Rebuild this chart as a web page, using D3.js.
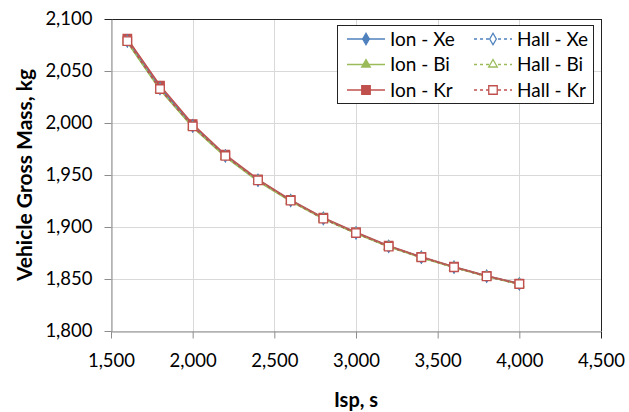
<!DOCTYPE html>
<html>
<head>
<meta charset="utf-8">
<script src="https://cdn.jsdelivr.net/npm/d3@7"></script>
<style>
  body { margin: 0; background: #fff; }
  text { font-family: Lato, "Open Sans", sans-serif; fill: #000; }
</style>
</head>
<body>
<div id="graph"></div>
<script>
// Vehicle gross mass vs Isp

let svgWidth = 629;
let svgHeight = 412;

let margin = { top: 19, right: 28, bottom: 81, left: 111 };
let width = svgWidth - margin.left - margin.right;
let height = svgHeight - margin.top - margin.bottom;

// data
let isp = [1600, 1800, 2000, 2200, 2400, 2600, 2800, 3000, 3200, 3400, 3600, 3800, 4000];
let ionXe  = [2079, 2034, 1997.5, 1968.5, 1945, 1925.5, 1908.5, 1894.5, 1881.5, 1871, 1861.5, 1852.8, 1845.4];
let ionBi  = [2077.5, 2032, 1996, 1967.5, 1944, 1924.8, 1907.8, 1893.8, 1881, 1870.5, 1861, 1852.4, 1845];
let ionKr  = [2081, 2036, 1999, 1969.5, 1945.8, 1926, 1909, 1895, 1882, 1871.3, 1861.8, 1853, 1845.6];
let hallXe = [2078.8, 2033, 1997, 1968.3, 1944.9, 1925.4, 1908, 1894.2, 1881.2, 1870.9, 1861.3, 1852.6, 1845.2];
let hallBi = [2078.2, 2032.4, 1996.5, 1968, 1944.6, 1925.1, 1907.9, 1894, 1881.1, 1870.7, 1861.2, 1852.5, 1845.1];
let hallKr = [2078.8, 2032.7, 1996.8, 1968.3, 1944.9, 1925.4, 1908, 1894.2, 1881.2, 1870.9, 1861.3, 1852.6, 1845.2];

let xTicks = [1500, 2000, 2500, 3000, 3500, 4000, 4500];
let yTicks = [1800, 1850, 1900, 1950, 2000, 2050, 2100];

let series = [
  { name: "Ion - Xe",  values: ionXe,  color: "#4f81bd", shape: d3.symbolDiamond,  fill: true,  dash: null },
  { name: "Ion - Bi",  values: ionBi,  color: "#9bbb59", shape: d3.symbolTriangle, fill: true,  dash: null },
  { name: "Ion - Kr",  values: ionKr,  color: "#c0504d", shape: d3.symbolSquare,   fill: true,  dash: null },
  { name: "Hall - Xe", values: hallXe, color: "#4f81bd", shape: d3.symbolDiamond,  fill: false, dash: "3,3" },
  { name: "Hall - Bi", values: hallBi, color: "#9bbb59", shape: d3.symbolTriangle, fill: false, dash: "3,3" },
  { name: "Hall - Kr", values: hallKr, color: "#c0504d", shape: d3.symbolSquare,   fill: false, dash: "3,3" }
];

function symSize(shape) {
  if (shape === d3.symbolTriangle) return 32;
  if (shape === d3.symbolDiamond) return 38;
  return 72;
}

let svg = d3.select("#graph")
  .append("svg")
  .attr("width", svgWidth)
  .attr("height", svgHeight);

let chartGroup = svg.append("g")
  .attr("transform", `translate(${margin.left}, ${margin.top})`);

let xScale = d3.scaleLinear().domain([1500, 4500]).range([0, width]);
let yScale = d3.scaleLinear().domain([1800, 2100]).range([height, 0]);

let fmt = d3.format(",");

// gridlines
chartGroup.append("g")
  .selectAll("line")
  .data(yTicks)
  .enter()
  .append("line")
  .attr("x1", 0).attr("x2", width)
  .attr("y1", d => Math.round(yScale(d)) + 0.5)
  .attr("y2", d => Math.round(yScale(d)) + 0.5)
  .attr("stroke", "#d9d9d9");

chartGroup.append("g")
  .selectAll("line")
  .data(xTicks)
  .enter()
  .append("line")
  .attr("y1", 0).attr("y2", height)
  .attr("x1", d => Math.round(xScale(d)) + 0.5)
  .attr("x2", d => Math.round(xScale(d)) + 0.5)
  .attr("stroke", "#d9d9d9");

// plot border top / right
chartGroup.append("line")
  .attr("x1", 0).attr("x2", width + 0.5)
  .attr("y1", 0.5).attr("y2", 0.5)
  .attr("stroke", "#222");
chartGroup.append("line")
  .attr("x1", width + 0.5).attr("x2", width + 0.5)
  .attr("y1", 0).attr("y2", height)
  .attr("stroke", "#222");

// axes
let xAxis = d3.axisBottom(xScale).tickValues(xTicks).tickFormat(fmt).tickSizeInner(7).tickSizeOuter(0).tickPadding(12);
let yAxis = d3.axisLeft(yScale).tickValues(yTicks).tickFormat(fmt).tickSizeInner(7).tickSizeOuter(0).tickPadding(12);

let gx = chartGroup.append("g")
  .attr("transform", `translate(0, ${height + 0.5})`)
  .call(xAxis);
let gy = chartGroup.append("g")
  .attr("transform", "translate(0.5, 0)")
  .call(yAxis);

[gx, gy].forEach(g => {
  g.select(".domain").attr("stroke", "#8c8c8c");
  g.selectAll(".tick line").attr("stroke", "#8c8c8c");
  g.selectAll(".tick text")
    .attr("font-family", "Lato, sans-serif")
    .attr("font-size", "18.5px")
    .attr("fill", "#111");
});
gy.select(".tick:last-of-type line").attr("stroke", "#222");
gx.select(".tick:last-of-type line").attr("stroke", "#222");
gx.selectAll(".tick text").attr("dy", "0.9em");

// lines and markers
let line = d3.line()
  .x((d, i) => xScale(isp[i]))
  .y(d => yScale(d));

series.forEach(s => {
  chartGroup.append("path")
    .datum(s.values)
    .attr("d", line)
    .attr("fill", "none")
    .attr("stroke", s.color)
    .attr("stroke-width", 1.6)
    .attr("stroke-dasharray", s.dash);

  chartGroup.selectAll(null)
    .data(s.values)
    .enter()
    .append("path")
    .attr("d", d3.symbol().type(s.shape).size(symSize(s.shape)))
    .attr("transform", (d, i) => `translate(${xScale(isp[i])}, ${yScale(d)})`)
    .attr("fill", s.fill ? s.color : "#fff")
    .attr("stroke", s.color)
    .attr("stroke-width", 1.3);
});

// axis titles
svg.append("text")
  .attr("transform", `translate(32, ${margin.top + height / 2}) rotate(-90)`)
  .attr("text-anchor", "middle")
  .attr("font-size", "21px")
  .attr("font-weight", "bold")
  .text("Vehicle Gross Mass, kg");

svg.append("text")
  .attr("x", margin.left + width / 2)
  .attr("y", 407)
  .attr("text-anchor", "middle")
  .attr("font-size", "20px")
  .attr("font-weight", "bold")
  .text("Isp, s");

// legend
let legend = svg.append("g").attr("transform", "translate(337, 25)");
legend.append("rect")
  .attr("x", 0.5).attr("y", 0.5)
  .attr("width", 256).attr("height", 78)
  .attr("fill", "#fff")
  .attr("stroke", "#222");

series.forEach((s, i) => {
  let col = Math.floor(i / 3);
  let row = i % 3;
  let lx = 10 + col * 127;
  let ly = 14 + row * 25.5;
  let item = legend.append("g").attr("transform", `translate(${lx}, ${ly})`);
  item.append("line")
    .attr("x1", 0).attr("x2", 38)
    .attr("y1", 0).attr("y2", 0)
    .attr("stroke", s.color)
    .attr("stroke-width", 1.6)
    .attr("stroke-dasharray", s.dash);
  item.append("path")
    .attr("d", d3.symbol().type(s.shape).size(symSize(s.shape)))
    .attr("transform", "translate(19, 0)")
    .attr("fill", s.fill ? s.color : "#fff")
    .attr("stroke", s.color)
    .attr("stroke-width", 1.3);
  item.append("text")
    .attr("x", 43)
    .attr("y", 0)
    .attr("dy", "0.35em")
    .attr("font-size", "19px")
    .text(s.name);
});
</script>
</body>
</html>
